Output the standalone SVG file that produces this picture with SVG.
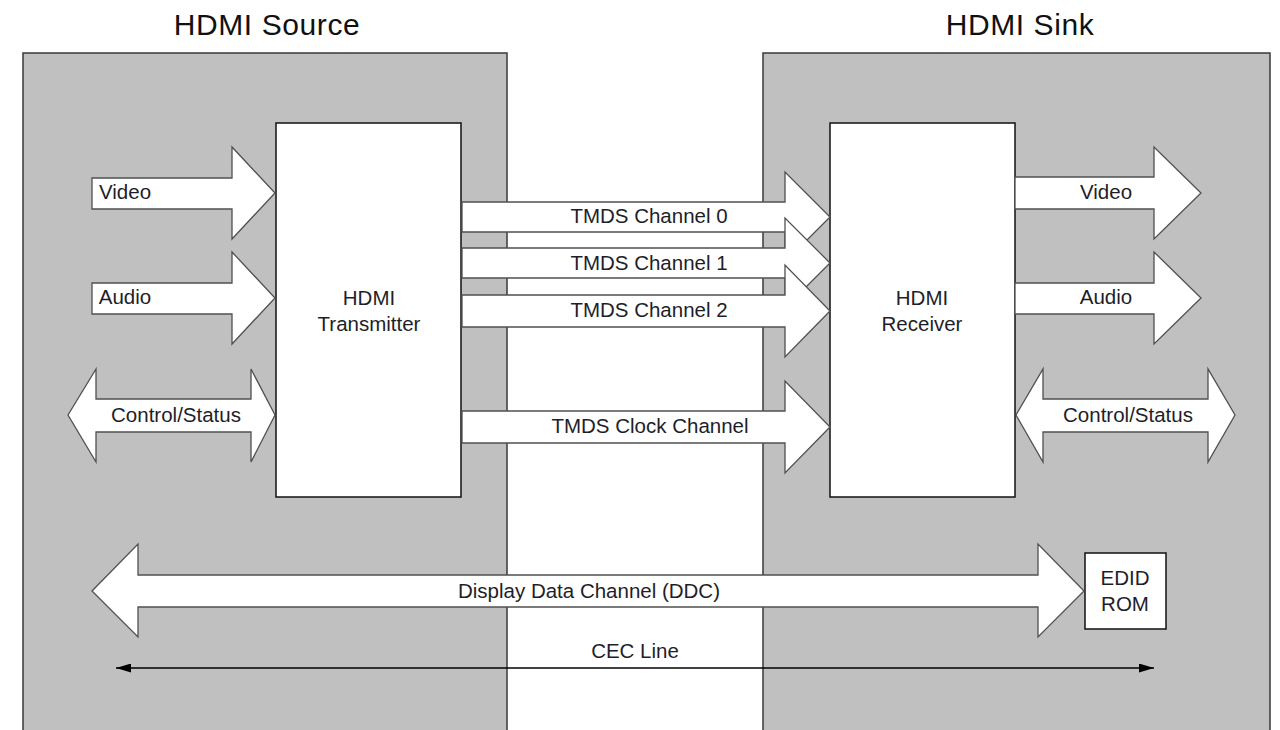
<svg xmlns="http://www.w3.org/2000/svg" width="1280" height="730" viewBox="0 0 1280 730">
<style>
.panel{fill:#c0c0c0;stroke:#3a3a3a;stroke-width:1.5}
.box{fill:#fff;stroke:#111;stroke-width:1.5}
.blk{fill:#fff;stroke:#505050;stroke-width:1.3;stroke-linejoin:miter}
.t{font-family:"Liberation Sans",Arial,sans-serif;font-size:20.5px;fill:#1e1e28;text-anchor:middle}
.title{font-family:"Liberation Sans",Arial,sans-serif;font-size:30px;letter-spacing:0.6px;fill:#111;text-anchor:middle}
.cec{stroke:#000;stroke-width:1.5;fill:none}
</style>
<defs>
<marker id="ah" viewBox="0 0 15 9" refX="15" refY="4.5" markerWidth="15" markerHeight="9" markerUnits="userSpaceOnUse" orient="auto-start-reverse">
<path d="M0,0 L15,4.5 L0,9 z" fill="#000"/>
</marker>
</defs>
<rect width="1280" height="730" fill="#fff"/>
<g id="source-panel">
<rect class="panel" x="23" y="53" width="484" height="700"/>
<text class="title" x="267" y="35">HDMI Source</text>
</g>
<g id="sink-panel">
<rect class="panel" x="763" y="53" width="507" height="700"/>
<text class="title" x="1020" y="35">HDMI Sink</text>
</g>
<g id="transmitter">
<rect class="box" x="276" y="123" width="185" height="374"/>
<text class="t" x="369" y="305">HDMI</text>
<text class="t" x="369" y="331">Transmitter</text>
</g>
<g id="receiver">
<rect class="box" x="830" y="123" width="185" height="374"/>
<text class="t" x="922" y="305">HDMI</text>
<text class="t" x="922" y="331">Receiver</text>
</g>
<g id="edid-rom">
<rect class="box" x="1085" y="553" width="81" height="76"/>
<text class="t" x="1125" y="585">EDID</text>
<text class="t" x="1125" y="611">ROM</text>
</g>
<g id="connectors">
<polygon class="blk" points="92,178 232,178 232,147 275,193 232,239 232,209 92,209"/>
<text class="t" x="125" y="199">Video</text>
<polygon class="blk" points="92,283 232,283 232,252 275,298 232,344 232,314 92,314"/>
<text class="t" x="125" y="304">Audio</text>
<polygon class="blk" points="68,415 96,369 96,399 251,399 251,369 275,415 251,462 251,432 96,432 96,462"/>
<text class="t" x="176" y="422">Control/Status</text>
<polygon class="blk" points="1015,177 1154,177 1154,147 1201,193 1154,239 1154,209 1015,209"/>
<text class="t" x="1106" y="199">Video</text>
<polygon class="blk" points="1015,283 1154,283 1154,252 1201,298 1154,344 1154,314 1015,314"/>
<text class="t" x="1106" y="304">Audio</text>
<polygon class="blk" points="1016,415 1043,369 1043,399 1208,399 1208,369 1235,415 1208,462 1208,432 1043,432 1043,462"/>
<text class="t" x="1128" y="422">Control/Status</text>
<polygon class="blk" points="462,202 785,202 785,172 830,217 785,262 785,232 462,232"/>
<text class="t" x="649" y="223">TMDS Channel 0</text>
<polygon class="blk" points="462,248 785,248 785,218 830,263 785,308 785,278 462,278"/>
<text class="t" x="649" y="270">TMDS Channel 1</text>
<polygon class="blk" points="462,295 785,295 785,265 830,311 785,357 785,327 462,327"/>
<text class="t" x="649" y="317">TMDS Channel 2</text>
<polygon class="blk" points="462,411 785,411 785,381 830,427 785,473 785,443 462,443"/>
<text class="t" x="650" y="433">TMDS Clock Channel</text>
<polygon class="blk" points="92,591 138,544 138,575 1038,575 1038,544 1084,591 1038,637 1038,607 138,607 138,637"/>
<text class="t" x="589" y="598">Display Data Channel (DDC)</text>
<line class="cec" x1="116" y1="668" x2="1154" y2="668" marker-start="url(#ah)" marker-end="url(#ah)"/>
<text class="t" x="635" y="658">CEC Line</text>
</g>
</svg>
